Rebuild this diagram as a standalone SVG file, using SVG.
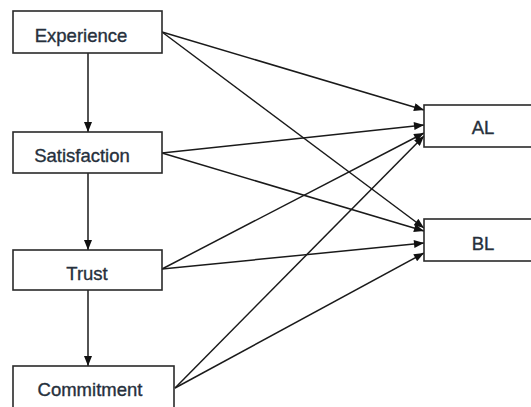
<svg xmlns="http://www.w3.org/2000/svg" width="531" height="407" viewBox="0 0 531 407">
<style>
.box{fill:#fff;stroke:#2a2a2a;stroke-width:1.6}
.lbl{font-family:"Liberation Sans",Arial,sans-serif;font-size:18.5px;fill:#26303c;stroke:#26303c;stroke-width:0.35;text-anchor:middle}
.edge{stroke:#1a1a1a;stroke-width:1.5;fill:none;marker-end:url(#ah)}
</style>
<defs>
<marker id="ah" viewBox="0 0 10 8" refX="10" refY="4" markerWidth="11" markerHeight="8" markerUnits="userSpaceOnUse" orient="auto">
<path d="M0,0 L10,4 L0,8 Z" fill="#111"/>
</marker>
</defs>
<rect width="531" height="407" fill="#fff"/>
<g id="connectors">
<line class="edge" x1="88" y1="53" x2="88" y2="132"/>
<line class="edge" x1="88" y1="173" x2="88" y2="250"/>
<line class="edge" x1="88" y1="290" x2="88" y2="366"/>
<line class="edge" x1="162" y1="32" x2="424" y2="110"/>
<line class="edge" x1="162" y1="32" x2="424" y2="228"/>
<line class="edge" x1="162" y1="153" x2="424" y2="125"/>
<line class="edge" x1="162" y1="153" x2="424" y2="231"/>
<line class="edge" x1="162" y1="269" x2="424" y2="133"/>
<line class="edge" x1="162" y1="269" x2="424" y2="243"/>
<line class="edge" x1="175" y1="388" x2="424" y2="136"/>
<line class="edge" x1="175" y1="388" x2="424" y2="253"/>
</g>
<g id="experience"><rect class="box" x="13" y="11" width="149" height="42"/><text class="lbl" x="81" y="42">Experience</text></g>
<g id="satisfaction"><rect class="box" x="13" y="132" width="149" height="41"/><text class="lbl" x="82" y="162">Satisfaction</text></g>
<g id="trust"><rect class="box" x="13" y="250" width="149" height="40"/><text class="lbl" x="87" y="280">Trust</text></g>
<g id="commitment"><rect class="box" x="13" y="366" width="161" height="50"/><text class="lbl" x="90" y="396">Commitment</text></g>
<g id="al"><rect class="box" x="424" y="105" width="120" height="42"/><text class="lbl" x="483" y="134">AL</text></g>
<g id="bl"><rect class="box" x="424" y="219" width="120" height="42"/><text class="lbl" x="483" y="250">BL</text></g>
</svg>
